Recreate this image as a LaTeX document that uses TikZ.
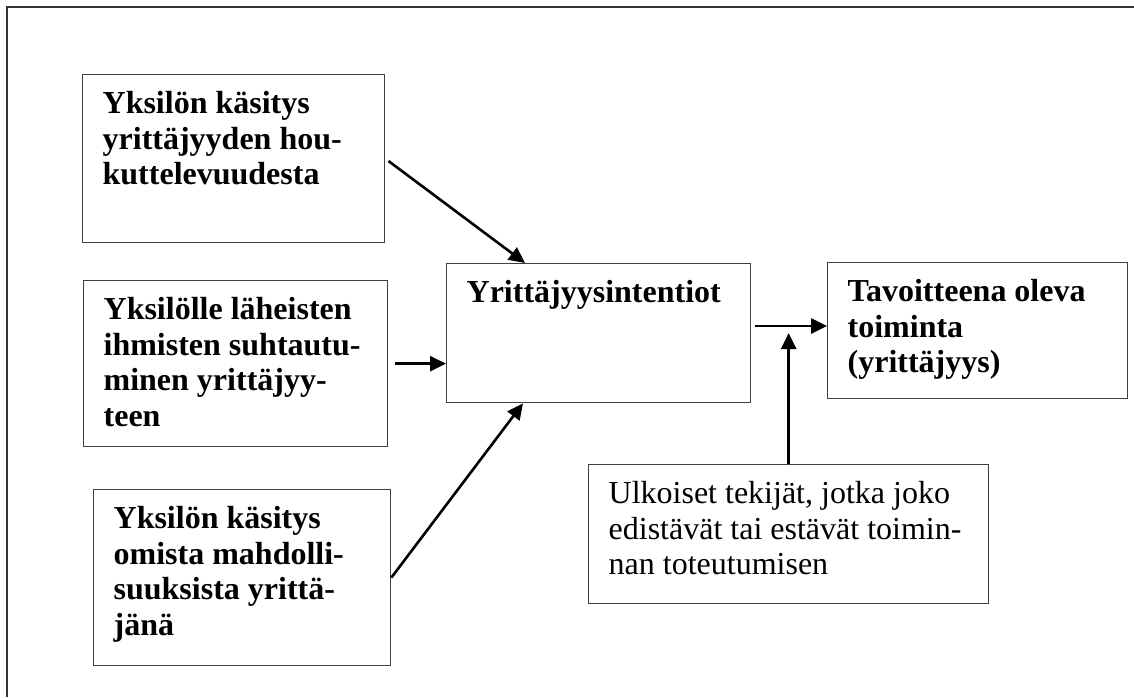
\documentclass[tikz,border=0pt]{standalone}
\usepackage{fontspec}
\setmainfont{Liberation Serif}
\usetikzlibrary{arrows.meta}

% one \mbox per printed line, so nothing wraps again
\newcommand{\boxtext}[3]{\parbox[t][#2][t]{#1}{\raggedright\vspace*{17pt}#3}}
\newcommand{\row}[1]{\mbox{#1}}

\begin{document}
\begin{tikzpicture}[x=1pt,y=-1pt]
       \tikzstyle{factor}=[draw=black!75, line width=1.3pt, anchor=north west, inner xsep=20pt, inner ysep=0pt,
                           font=\fontsize{32}{35.5}\selectfont\bfseries]
       \tikzstyle{outer}=[factor, font=\fontsize{32}{35.5}\selectfont]
       \tikzstyle{frame}=[draw=black!80, line width=1.8pt]
       \tikzstyle{arrow}=[draw, line width=2.6pt, -{Triangle[length=16pt,width=15pt]}]
       \useasboundingbox (0,0) rectangle (1134,697);
       \draw[frame] (7,697) -- (7,7) -- (1134,7);
       % factors on the left
       \node[factor] (attitude) at (82,74)
        {\boxtext{262pt}{168pt}{\row{Yksilön käsitys}\\\row{yrittäjyyden hou-}\\\row{kuttelevuudesta}}};
       \node[factor] (norms) at (83,280)
        {\boxtext{264pt}{166pt}{\row{Yksilölle läheisten}\\\row{ihmisten suhtautu-}\\\row{minen yrittäjyy-}\\\row{teen}}};
       \node[factor] (control) at (93,489)
        {\boxtext{257pt}{176pt}{\row{Yksilön käsitys}\\\row{omista mahdolli-}\\\row{suuksista yrittä-}\\\row{jänä}}};
       % intention and action
       \node[factor] (intent) at (446,263)
        {\boxtext{264pt}{139pt}{\row{Yrittäjyysintentiot}}};
       \node[factor] (action) at (827,262)
        {\boxtext{260pt}{136pt}{\row{Tavoitteena oleva}\\\row{toiminta}\\\row{(yrittäjyys)}}};
       \node[outer] (external) at (588,464)
        {\boxtext{360pt}{139pt}{\row{Ulkoiset tekijät, jotka joko}\\\row{edistävät tai estävät toimin-}\\\row{nan toteutumisen}}};
       \coordinate (meet) at (external.north |- 0,326);
       % connectors
       \draw[arrow, shorten <=4pt] (attitude.east) -- ([xshift=79pt]intent.north west);
       \draw[arrow, shorten <=7pt] (norms.east) -- (norms.east -| intent.west);
       \draw[arrow] (control.east) -- ([xshift=77pt]intent.south west);
       \draw[arrow, shorten <=4pt] (intent.east |- meet) -- (action.west |- meet);
       \draw[arrow, shorten >=7pt] (external.north) -- (meet);
      \end{tikzpicture}
\end{document}
